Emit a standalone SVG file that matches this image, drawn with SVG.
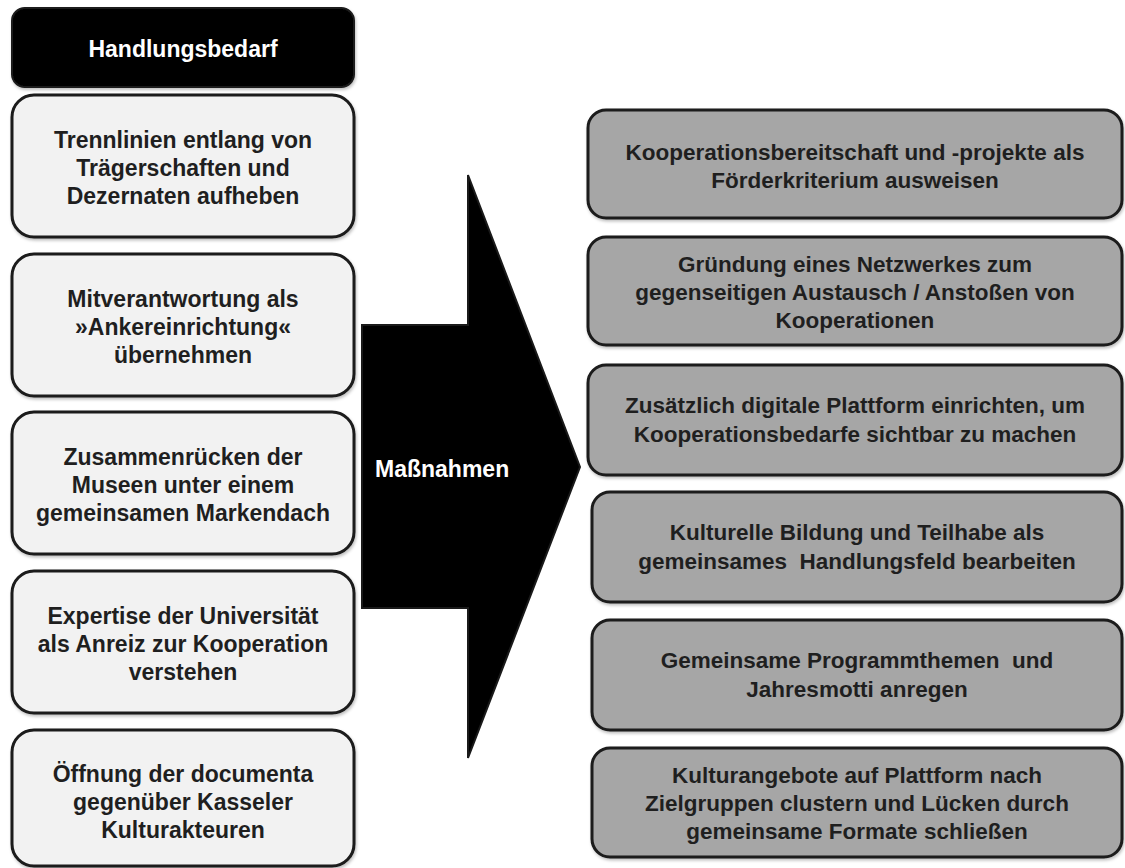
<svg xmlns="http://www.w3.org/2000/svg" width="1125" height="868" viewBox="0 0 1125 868">
<defs>
<filter id="sh" x="-5%" y="-5%" width="110%" height="115%">
<feDropShadow dx="1" dy="2" stdDeviation="1.5" flood-color="#000" flood-opacity="0.25"/>
</filter>
</defs>
<style>
.lbox{fill:#f2f2f2;stroke:#1a1a1a;stroke-width:3;filter:url(#sh)}
.rbox{fill:#a6a6a6;stroke:#1a1a1a;stroke-width:3;filter:url(#sh)}
.hbox{fill:#000;stroke:#1a1a1a;stroke-width:2;filter:url(#sh)}
text{font-family:"Liberation Sans",Arial,sans-serif;font-weight:bold;font-size:23px;fill:#1f1f1f;text-anchor:middle}
.r text{font-size:22.5px}
.w{fill:#fff}
.l{text-anchor:start}
</style>
<rect width="1125" height="868" fill="#fff"/>
<g id="connectors">
<polygon points="362,325 468,325 468,175 580,467 468,758 468,608 362,608" fill="#000" stroke="#1a1a1a" stroke-width="2" stroke-linejoin="miter"/>
<text class="w l" x="375" y="477">Maßnahmen</text>
</g>
<g id="header">
<rect class="hbox" x="12" y="8" width="342" height="79" rx="13"/>
<text class="w" x="183" y="57" font-size="21">Handlungsbedarf</text>
</g>
<g id="l1">
<rect class="lbox" x="12" y="95" width="342" height="142" rx="22"/>
<text x="183" y="148">Trennlinien entlang von</text>
<text x="183" y="176">Trägerschaften und</text>
<text x="183" y="204">Dezernaten aufheben</text>
</g>
<g id="l2">
<rect class="lbox" x="12" y="254" width="342" height="142" rx="22"/>
<text x="183" y="307">Mitverantwortung als</text>
<text x="183" y="335">»Ankereinrichtung«</text>
<text x="183" y="363">übernehmen</text>
</g>
<g id="l3">
<rect class="lbox" x="12" y="412" width="342" height="142" rx="22"/>
<text x="183" y="465">Zusammenrücken der</text>
<text x="183" y="493">Museen unter einem</text>
<text x="183" y="521">gemeinsamen Markendach</text>
</g>
<g id="l4">
<rect class="lbox" x="12" y="571" width="342" height="142" rx="22"/>
<text x="183" y="624">Expertise der Universität</text>
<text x="183" y="652">als Anreiz zur Kooperation</text>
<text x="183" y="680">verstehen</text>
</g>
<g id="l5">
<rect class="lbox" x="12" y="730" width="342" height="136" rx="22"/>
<text x="183" y="782">Öffnung der documenta</text>
<text x="183" y="810">gegenüber Kasseler</text>
<text x="183" y="838">Kulturakteuren</text>
</g>
<g id="r1" class="r">
<rect class="rbox" x="588" y="110" width="534" height="108" rx="18"/>
<text x="855" y="160">Kooperationsbereitschaft und -projekte als</text>
<text x="855" y="188">Förderkriterium ausweisen</text>
</g>
<g id="r2" class="r">
<rect class="rbox" x="588" y="237" width="534" height="108" rx="18"/>
<text x="855" y="272">Gründung eines Netzwerkes zum</text>
<text x="855" y="300">gegenseitigen Austausch / Anstoßen von</text>
<text x="855" y="328">Kooperationen</text>
</g>
<g id="r3" class="r">
<rect class="rbox" x="588" y="365" width="534" height="110" rx="18"/>
<text x="855" y="413">Zusätzlich digitale Plattform einrichten, um</text>
<text x="855" y="442">Kooperationsbedarfe sichtbar zu machen</text>
</g>
<g id="r4" class="r">
<rect class="rbox" x="592" y="492" width="530" height="110" rx="18"/>
<text x="857" y="540">Kulturelle Bildung und Teilhabe als</text>
<text x="857" y="569">gemeinsames&#160; Handlungsfeld bearbeiten</text>
</g>
<g id="r5" class="r">
<rect class="rbox" x="592" y="620" width="530" height="110" rx="18"/>
<text x="857" y="668">Gemeinsame Programmthemen&#160; und</text>
<text x="857" y="697">Jahresmotti anregen</text>
</g>
<g id="r6" class="r">
<rect class="rbox" x="592" y="748" width="530" height="109" rx="18"/>
<text x="857" y="783">Kulturangebote auf Plattform nach</text>
<text x="857" y="811">Zielgruppen clustern und Lücken durch</text>
<text x="857" y="839">gemeinsame Formate schließen</text>
</g>
</svg>
